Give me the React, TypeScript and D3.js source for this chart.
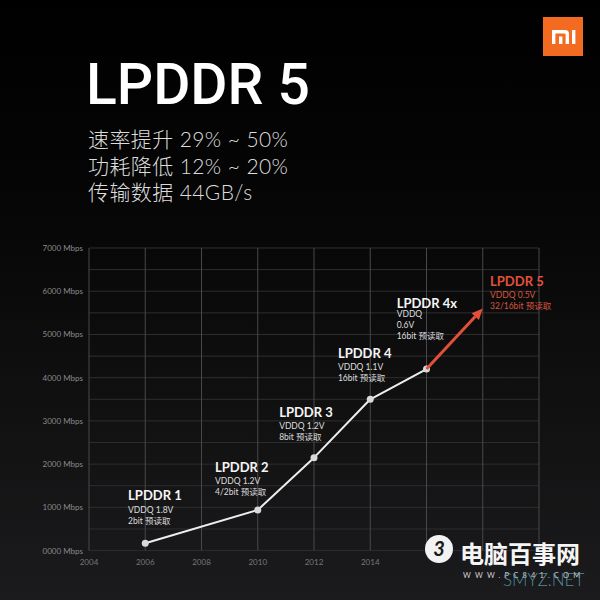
import React, { useEffect } from "react";
import * as d3 from "d3";

// ---- data ----
const years = [2006, 2010, 2012, 2014, 2016];
const speeds = [170, 940, 2150, 3500, 4200];
const forecastYear = 2018;
const forecastSpeed = 5600;

const yTicks = [0, 1000, 2000, 3000, 4000, 5000, 6000, 7000];
const yTickLabels = ["0000 Mbps", "1000 Mbps", "2000 Mbps", "3000 Mbps", "4000 Mbps", "5000 Mbps", "6000 Mbps", "7000 Mbps"];
const yGrid = [0, 500, 1000, 1500, 2000, 2500, 3000, 3500, 4000, 4500, 5000, 5500, 6000, 6500, 7000];
const xTicks = [2004, 2006, 2008, 2010, 2012, 2014, 2016, 2018, 2020];
const xTickLabels = ["2004", "2006", "2008", "2010", "2012", "2014", "", "", ""];

const labelNames = ["LPDDR 1", "LPDDR 2", "LPDDR 3", "LPDDR 4", "LPDDR 4x", "LPDDR 5"];
const labelLines = [
  ["VDDQ 1.8V", "2bit 预读取"],
  ["VDDQ 1.2V", "4/2bit 预读取"],
  ["VDDQ 1.2V", "8bit 预读取"],
  ["VDDQ 1.1V", "16bit 预读取"],
  ["VDDQ", "0.6V", "16bit 预读取"],
  ["VDDQ 0.5V", "32/16bit 预读取"],
];
// annotation anchors in data units (year, Mbps) for the title baseline
const labelYears = [2005.39, 2008.48, 2010.76, 2012.85, 2014.94, 2018.26];
const labelSpeeds = [1170, 1825, 3097, 4462, 5605, 6128];

const headline = "LPDDR 5";
const bullets = ["速率提升 29% ~ 50%", "功耗降低 12% ~ 20%", "传输数据 44GB/s"];

const RED = "#e2503a";

export default function App() {
  useEffect(() => {
    document.body.style.margin = "0";
    document.body.style.background = "#000";
  }, []);

  const x = d3.scaleLinear().domain([2004, 2020]).range([89, 539]);
  const y = d3.scaleLinear().domain([0, 7000]).range([550.6, 248]);

  const pts: [number, number][] = years.map((yr, i) => [x(yr), y(speeds[i])]);
  const line = d3.line<[number, number]>().x((d) => d[0]).y((d) => d[1]);

  // forecast arrow
  const x0 = x(years[years.length - 1]);
  const y0 = y(speeds[speeds.length - 1]);
  const x1 = x(forecastYear);
  const y1 = y(forecastSpeed);
  const ang = Math.atan2(y1 - y0, x1 - x0);
  const headLen = 11;
  const headW = 5;
  const bx = x1 - headLen * Math.cos(ang);
  const by = y1 - headLen * Math.sin(ang);
  const px = -Math.sin(ang) * headW;
  const py = Math.cos(ang) * headW;
  const head = `M${x1},${y1}L${bx + px},${by + py}L${bx - px},${by - py}Z`;

  const cjk = "'Noto Sans CJK SC', 'Noto Sans', sans-serif";
  const latin = "Lato, 'Noto Sans', 'Noto Sans CJK SC', sans-serif";
  const mixed = "Lato, 'Noto Sans CJK SC', sans-serif";

  return (
    <svg
      width={600}
      height={600}
      viewBox="0 0 600 600"
      style={{ position: "absolute", left: 0, top: 0, display: "block" }}
    >
      <defs>
        <linearGradient id="bg" x1="0" y1="0" x2="0" y2="1">
          <stop offset="0" stopColor="#000000" />
          <stop offset="0.35" stopColor="#060606" />
          <stop offset="1" stopColor="#1b1b1d" />
        </linearGradient>
      </defs>
      <rect x={0} y={0} width={600} height={600} fill="url(#bg)" />

      {/* Mi logo */}
      <rect x={543} y={17} width={40} height={39} fill="#f26b21" />
      <path
        d="M552,44V30H565Q569,30 569,34V44H565.6V34.6Q565.6,33.4 564.4,33.4H555.4V44Z M559,36.6H562.4V44H559Z M572,30H575.4V44H572Z"
        fill="#ffffff"
      />

      {/* headline */}
      <text x={86} y={103.5} fill="#ffffff" fontFamily="Roboto, Lato, sans-serif" fontSize={57} fontWeight={500}>
        {headline}
      </text>
      {bullets.map((b, i) => (
        <text key={i} x={88} y={147 + i * 26.7} fill="#dcdcdc" fontFamily={mixed} fontSize={21} fontWeight={300} letterSpacing={0.4}>
          {b}
        </text>
      ))}

      {/* grid */}
      <g>
        {yGrid.map((v) => (
          <line key={"h" + v} x1={x(2004)} x2={x(2020)} y1={y(v)} y2={y(v)} stroke="#2e2e30" strokeWidth={1} />
        ))}
        {xTicks.map((t) => (
          <line key={"v" + t} x1={x(t)} x2={x(t)} y1={y(0)} y2={y(7000)} stroke="#48484a" strokeWidth={1} />
        ))}
      </g>

      {/* axis labels */}
      {yTicks.map((v, i) => (
        <text key={"yl" + v} x={83} y={y(v) + 3} textAnchor="end" fill="#8a8a8a" fontFamily={latin} fontSize={8}>
          {yTickLabels[i]}
        </text>
      ))}
      {xTicks.map((t, i) => (
        <text key={"xl" + t} x={x(t)} y={564.5} textAnchor="middle" fill="#777" fontFamily={latin} fontSize={8}>
          {xTickLabels[i]}
        </text>
      ))}

      {/* history line */}
      <path d={line(pts) || ""} fill="none" stroke="#eeeeee" strokeWidth={2} strokeLinejoin="round" />
      {pts.map((p, i) => (
        <circle key={"pt" + i} cx={p[0]} cy={p[1]} r={3.5} fill="#d9d9d9" />
      ))}

      {/* forecast arrow */}
      <line x1={x0} y1={y0} x2={bx} y2={by} stroke={RED} strokeWidth={3} />
      <path d={head} fill={RED} />

      {/* annotations */}
      {labelNames.map((name, i) => {
        const ax = x(labelYears[i]);
        const ay = y(labelSpeeds[i]);
        const isRed = i === labelNames.length - 1;
        const gap = i === 4 ? 8.5 : 12.5;
        return (
          <g key={"lab" + i}>
            <text x={ax} y={ay} fill={isRed ? RED : "#f5f5f5"} fontFamily={latin} fontSize={13} fontWeight={700}>
              {name}
            </text>
            {labelLines[i].map((s, j) => (
              <text
                key={j}
                x={ax}
                y={ay + gap + j * 11}
                fill={isRed ? "#d9553f" : "#dddddd"}
                fontFamily={latin}
                fontSize={8.5}
              >
                {s}
              </text>
            ))}
          </g>
        );
      })}

      {/* watermark */}
      <g>
        <circle cx={439} cy={549} r={14} fill="#f2f2f2" />
        <text x={439} y={556} textAnchor="middle" fill="#1a1a1a" fontFamily={latin} fontSize={20} fontWeight={700} fontStyle="italic">
          3
        </text>
        <text x={460} y={563} fill="#f5f5f5" fontFamily={cjk} fontSize={24} fontWeight={700}>
          电脑百事网
        </text>
        <text x={463} y={578} fill="#cfcfcf" fontFamily={latin} fontSize={7.5} letterSpacing={4.2}>
          WWW.PC841.COM
        </text>
        <text x={503} y={586} fill="#5aa5b6" fillOpacity={0.85} fontFamily={latin} fontSize={17} fontWeight={300}>
          SMYZ.NET
        </text>
      </g>
    </svg>
  );
}
